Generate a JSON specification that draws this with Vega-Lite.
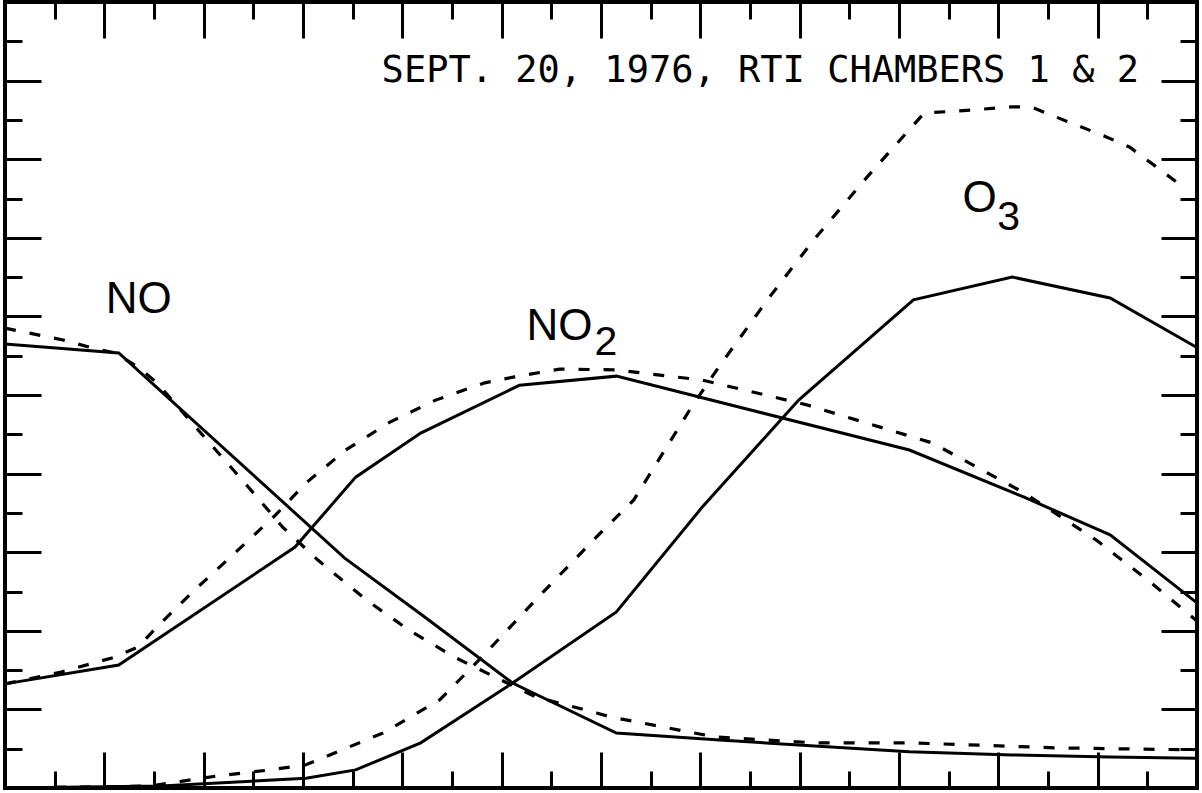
{
  "$schema": "https://vega.github.io/schema/vega-lite/v6.json",
  "width": 1192,
  "height": 786,
  "autosize": {"type": "none"},
  "padding": {"left": 5, "right": 5, "top": 2, "bottom": 5},
  "background": "white",
  "config": {"view": {"stroke": "black", "strokeWidth": 4}},
  "title": {
    "text": "SEPT. 20, 1976, RTI CHAMBERS 1 & 2",
    "orient": "top",
    "anchor": "end",
    "frame": "group",
    "offset": -117,
    "baseline": "alphabetic",
    "dx": -58,
    "font": "DejaVu Sans Mono",
    "fontSize": 37,
    "fontWeight": "normal",
    "color": "black"
  },
  "datasets": {
    "lines": [
      {"series": "NO", "kind": "measured", "x": 0, "y": 11.30},
      {"series": "NO", "kind": "measured", "x": 2.29, "y": 11.07},
      {"series": "NO", "kind": "measured", "x": 6.84, "y": 5.85},
      {"series": "NO", "kind": "measured", "x": 8.45, "y": 4.35},
      {"series": "NO", "kind": "measured", "x": 10.22, "y": 2.67},
      {"series": "NO", "kind": "measured", "x": 12.31, "y": 1.40},
      {"series": "NO", "kind": "measured", "x": 14.39, "y": 1.22},
      {"series": "NO", "kind": "measured", "x": 16.30, "y": 1.07},
      {"series": "NO", "kind": "measured", "x": 18.21, "y": 0.92},
      {"series": "NO", "kind": "measured", "x": 20.28, "y": 0.84},
      {"series": "NO", "kind": "measured", "x": 22.25, "y": 0.79},
      {"series": "NO", "kind": "measured", "x": 23.98, "y": 0.76},

      {"series": "NO2", "kind": "measured", "x": 0, "y": 2.65},
      {"series": "NO2", "kind": "measured", "x": 2.29, "y": 3.13},
      {"series": "NO2", "kind": "measured", "x": 5.84, "y": 6.13},
      {"series": "NO2", "kind": "measured", "x": 7.06, "y": 7.91},
      {"series": "NO2", "kind": "measured", "x": 8.37, "y": 9.03},
      {"series": "NO2", "kind": "measured", "x": 10.36, "y": 10.25},
      {"series": "NO2", "kind": "measured", "x": 12.31, "y": 10.48},
      {"series": "NO2", "kind": "measured", "x": 18.21, "y": 8.60},
      {"series": "NO2", "kind": "measured", "x": 20.52, "y": 7.40},
      {"series": "NO2", "kind": "measured", "x": 22.25, "y": 6.44},
      {"series": "NO2", "kind": "measured", "x": 23.98, "y": 4.73},

      {"series": "O3", "kind": "measured", "x": 0, "y": 0},
      {"series": "O3", "kind": "measured", "x": 3.14, "y": 0.05},
      {"series": "O3", "kind": "measured", "x": 6.06, "y": 0.25},
      {"series": "O3", "kind": "measured", "x": 7.06, "y": 0.46},
      {"series": "O3", "kind": "measured", "x": 8.37, "y": 1.15},
      {"series": "O3", "kind": "measured", "x": 10.22, "y": 2.67},
      {"series": "O3", "kind": "measured", "x": 12.31, "y": 4.48},
      {"series": "O3", "kind": "measured", "x": 14.04, "y": 7.15},
      {"series": "O3", "kind": "measured", "x": 15.98, "y": 9.87},
      {"series": "O3", "kind": "measured", "x": 18.29, "y": 12.42},
      {"series": "O3", "kind": "measured", "x": 20.28, "y": 13.00},
      {"series": "O3", "kind": "measured", "x": 22.25, "y": 12.47},
      {"series": "O3", "kind": "measured", "x": 23.98, "y": 11.22},

      {"series": "NO", "kind": "model", "x": 0, "y": 11.70},
      {"series": "NO", "kind": "model", "x": 1.17, "y": 11.40},
      {"series": "NO", "kind": "model", "x": 1.75, "y": 11.20},
      {"series": "NO", "kind": "model", "x": 2.21, "y": 11.07},
      {"series": "NO", "kind": "model", "x": 2.68, "y": 10.71},
      {"series": "NO", "kind": "model", "x": 3.06, "y": 10.31},
      {"series": "NO", "kind": "model", "x": 3.66, "y": 9.44},
      {"series": "NO", "kind": "model", "x": 4.83, "y": 7.76},
      {"series": "NO", "kind": "model", "x": 5.59, "y": 6.64},
      {"series": "NO", "kind": "model", "x": 6.30, "y": 5.80},
      {"series": "NO", "kind": "model", "x": 7.28, "y": 4.78},
      {"series": "NO", "kind": "model", "x": 8.13, "y": 4.02},
      {"series": "NO", "kind": "model", "x": 9.05, "y": 3.33},
      {"series": "NO", "kind": "model", "x": 10.68, "y": 2.32},
      {"series": "NO", "kind": "model", "x": 11.91, "y": 1.91},
      {"series": "NO", "kind": "model", "x": 12.19, "y": 1.81},
      {"series": "NO", "kind": "model", "x": 14.29, "y": 1.30},
      {"series": "NO", "kind": "model", "x": 16.28, "y": 1.15},
      {"series": "NO", "kind": "model", "x": 18.21, "y": 1.15},
      {"series": "NO", "kind": "model", "x": 21.21, "y": 1.02},
      {"series": "NO", "kind": "model", "x": 23.94, "y": 0.97},

      {"series": "NO2", "kind": "model", "x": 0, "y": 2.65},
      {"series": "NO2", "kind": "model", "x": 1.13, "y": 2.95},
      {"series": "NO2", "kind": "model", "x": 2.21, "y": 3.33},
      {"series": "NO2", "kind": "model", "x": 2.68, "y": 3.59},
      {"series": "NO2", "kind": "model", "x": 3.06, "y": 4.10},
      {"series": "NO2", "kind": "model", "x": 3.82, "y": 5.04},
      {"series": "NO2", "kind": "model", "x": 4.63, "y": 5.98},
      {"series": "NO2", "kind": "model", "x": 5.45, "y": 6.95},
      {"series": "NO2", "kind": "model", "x": 6.06, "y": 7.76},
      {"series": "NO2", "kind": "model", "x": 6.86, "y": 8.60},
      {"series": "NO2", "kind": "model", "x": 7.75, "y": 9.31},
      {"series": "NO2", "kind": "model", "x": 8.67, "y": 9.87},
      {"series": "NO2", "kind": "model", "x": 9.66, "y": 10.31},
      {"series": "NO2", "kind": "model", "x": 10.26, "y": 10.46},
      {"series": "NO2", "kind": "model", "x": 11.17, "y": 10.66},
      {"series": "NO2", "kind": "model", "x": 12.29, "y": 10.64},
      {"series": "NO2", "kind": "model", "x": 14.04, "y": 10.38},
      {"series": "NO2", "kind": "model", "x": 16.14, "y": 9.75},
      {"series": "NO2", "kind": "model", "x": 18.67, "y": 8.78},
      {"series": "NO2", "kind": "model", "x": 20.52, "y": 7.51},
      {"series": "NO2", "kind": "model", "x": 21.97, "y": 6.31},
      {"series": "NO2", "kind": "model", "x": 23.06, "y": 5.24},
      {"series": "NO2", "kind": "model", "x": 23.98, "y": 4.27},

      {"series": "O3", "kind": "model", "x": 0, "y": 0},
      {"series": "O3", "kind": "model", "x": 2.92, "y": 0.05},
      {"series": "O3", "kind": "model", "x": 4.29, "y": 0.31},
      {"series": "O3", "kind": "model", "x": 5.33, "y": 0.46},
      {"series": "O3", "kind": "model", "x": 6.06, "y": 0.59},
      {"series": "O3", "kind": "model", "x": 7.61, "y": 1.40},
      {"series": "O3", "kind": "model", "x": 8.75, "y": 2.24},
      {"series": "O3", "kind": "model", "x": 9.60, "y": 3.33},
      {"series": "O3", "kind": "model", "x": 10.68, "y": 4.78},
      {"series": "O3", "kind": "model", "x": 11.91, "y": 6.39},
      {"series": "O3", "kind": "model", "x": 12.66, "y": 7.33},
      {"series": "O3", "kind": "model", "x": 13.82, "y": 9.69},
      {"series": "O3", "kind": "model", "x": 14.37, "y": 10.71},
      {"series": "O3", "kind": "model", "x": 15.35, "y": 12.42},
      {"series": "O3", "kind": "model", "x": 16.28, "y": 13.94},
      {"series": "O3", "kind": "model", "x": 17.36, "y": 15.55},
      {"series": "O3", "kind": "model", "x": 18.51, "y": 17.18},
      {"series": "O3", "kind": "model", "x": 19.11, "y": 17.22},
      {"series": "O3", "kind": "model", "x": 20.26, "y": 17.33},
      {"series": "O3", "kind": "model", "x": 20.66, "y": 17.33},
      {"series": "O3", "kind": "model", "x": 21.17, "y": 17.07},
      {"series": "O3", "kind": "model", "x": 21.63, "y": 16.84},
      {"series": "O3", "kind": "model", "x": 22.13, "y": 16.59},
      {"series": "O3", "kind": "model", "x": 22.64, "y": 16.31},
      {"series": "O3", "kind": "model", "x": 23.08, "y": 15.90},
      {"series": "O3", "kind": "model", "x": 23.64, "y": 15.37}
    ],
    "labels": [
      {"text": "NO", "role": "name", "x": 2.03, "y": 12.09},
      {"text": "NO", "role": "name", "x": 10.50, "y": 11.40},
      {"text": "2", "role": "subscript", "x": 11.87, "y": 11.02},
      {"text": "O", "role": "name", "x": 19.28, "y": 14.66},
      {"text": "3", "role": "subscript", "x": 19.98, "y": 14.20}
    ]
  },
  "layer": [
    {
      "data": {"name": "lines"},
      "transform": [{"filter": "datum.kind === 'measured'"}],
      "mark": {"type": "line", "color": "black", "strokeWidth": 3},
      "encoding": {
        "x": {
          "field": "x", "type": "quantitative",
          "scale": {"domain": [0, 24], "nice": false, "zero": false},
          "axis": {
            "orient": "bottom", "title": null, "labels": false, "domain": false, "ticks": false,
            "values": [1,2,3,4,5,6,7,8,9,10,11,12,13,14,15,16,17,18,19,20,21,22,23],
            "grid": true, "gridColor": "black", "gridOpacity": 1, "gridWidth": 3,
            "gridDash": [17, 752, 17, 1000]
          }
        },
        "y": {
          "field": "y", "type": "quantitative",
          "scale": {"domain": [0, 20], "nice": false, "zero": false},
          "axis": {
            "orient": "left", "title": null, "labels": false, "domain": false, "ticks": false,
            "values": [1,2,3,4,5,6,7,8,9,10,11,12,13,14,15,16,17,18,19],
            "grid": true, "gridColor": "black", "gridOpacity": 1, "gridWidth": 3,
            "gridDash": [17, 1158, 17, 2000]
          }
        },
        "detail": {"field": "series", "type": "nominal"}
      }
    },
    {
      "data": {"name": "lines"},
      "transform": [{"filter": "datum.kind === 'model'"}],
      "mark": {"type": "line", "color": "black", "strokeWidth": 3.2, "strokeDash": [11, 14]},
      "encoding": {
        "x": {
          "field": "x", "type": "quantitative",
          "axis": {
            "orient": "top", "title": null, "labels": false, "domain": false, "ticks": false,
            "values": [2,4,6,8,10,12,14,16,18,20,22],
            "grid": true, "gridColor": "black", "gridOpacity": 1, "gridWidth": 3,
            "gridDash": [36, 714, 36, 1000]
          }
        },
        "y": {
          "field": "y", "type": "quantitative",
          "axis": {
            "orient": "right", "title": null, "labels": false, "domain": false, "ticks": false,
            "values": [2,4,6,8,10,12,14,16,18],
            "grid": true, "gridColor": "black", "gridOpacity": 1, "gridWidth": 3,
            "gridDash": [36, 1120, 36, 2000]
          }
        },
        "detail": {"field": "series", "type": "nominal"}
      }
    },
    {
      "data": {"name": "labels"},
      "transform": [{"filter": "datum.role === 'name'"}],
      "mark": {"type": "text", "align": "left", "baseline": "alphabetic", "font": "Liberation Sans", "fontSize": 44, "color": "black"},
      "encoding": {
        "x": {"field": "x", "type": "quantitative", "axis": null},
        "y": {"field": "y", "type": "quantitative", "axis": null},
        "text": {"field": "text"}
      }
    },
    {
      "data": {"name": "labels"},
      "transform": [{"filter": "datum.role === 'subscript'"}],
      "mark": {"type": "text", "align": "left", "baseline": "alphabetic", "font": "Liberation Sans", "fontSize": 41, "color": "black"},
      "encoding": {
        "x": {"field": "x", "type": "quantitative", "axis": null},
        "y": {"field": "y", "type": "quantitative", "axis": null},
        "text": {"field": "text"}
      }
    }
  ],
  "resolve": {"axis": {"x": "independent", "y": "independent"}}
}
